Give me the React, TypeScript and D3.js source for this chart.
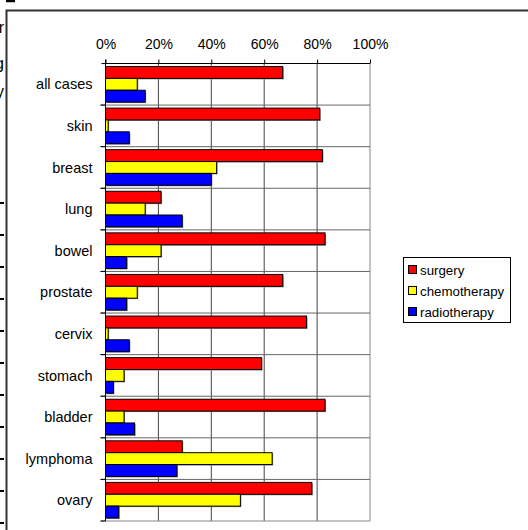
import { useEffect, useRef } from "react";
import * as d3 from "d3";

const categories = [
  "all cases", "skin", "breast", "lung", "bowel", "prostate",
  "cervix", "stomach", "bladder", "lymphoma", "ovary",
];
const surgery = [67, 81, 82, 21, 83, 67, 76, 59, 83, 29, 78];
const chemotherapy = [12, 1, 42, 15, 21, 12, 1, 7, 7, 63, 51];
const radiotherapy = [15, 9, 40, 29, 8, 8, 9, 3, 11, 27, 5];
const seriesNames = ["surgery", "chemotherapy", "radiotherapy"];
const seriesColors = ["#ff0000", "#ffff00", "#0000ff"];
const tickValues = [0, 20, 40, 60, 80, 100];

// fragments of the surrounding document that show at the left edge
const edgeLetters = ["r", "g", "y"];
const edgeLetterY = [33, 69, 97];

export default function App() {
  const svgRef = useRef<SVGSVGElement>(null);

  useEffect(() => {
    if (!svgRef.current) return;
    const width = 528;
    const height = 530;
    const svg = d3.select(svgRef.current);
    svg.selectAll("*").remove();
    svg.attr("viewBox", `0 0 ${width} ${height}`);

    const font = "'Liberation Sans', Arial, sans-serif";
    const margin = { top: 63.5, left: 105.5, right: 158, bottom: 9 };

    // frame of the embedded object
    svg.append("path")
      .attr("d", `M6.5,${height} V10.5 H${width}`)
      .attr("fill", "none")
      .attr("stroke", "#333")
      .attr("stroke-width", 2);

    // document remnants at the edge
    svg.append("line")
      .attr("x1", 6).attr("x2", 15).attr("y1", 1).attr("y2", 1)
      .attr("stroke", "#000").attr("stroke-width", 2.5);
    edgeLetters.forEach((t, i) => {
      svg.append("text")
        .attr("x", 4).attr("y", edgeLetterY[i])
        .attr("text-anchor", "end")
        .style("font-family", font).style("font-size", "16px")
        .text(t);
    });
    d3.range(11).forEach(i => {
      svg.append("line")
        .attr("x1", 0).attr("x2", 4)
        .attr("y1", 203 + i * 32).attr("y2", 203 + i * 32)
        .attr("stroke", "#000").attr("stroke-width", 2);
    });

    const x = d3.scaleLinear()
      .domain([0, 100])
      .range([margin.left, width - margin.right]);
    const y = d3.scaleBand<string>()
      .domain(categories)
      .range([margin.top, height - margin.bottom]);
    const inner = d3.scaleBand<string>()
      .domain(seriesNames)
      .range([3, y.bandwidth() - 3]);

    const g = svg.append("g");

    // vertical gridlines
    tickValues.slice(1).forEach(t => {
      g.append("line")
        .attr("x1", x(t)).attr("x2", x(t))
        .attr("y1", y.range()[0]).attr("y2", y.range()[1])
        .attr("stroke", t === 100 ? "#888" : "#444")
        .attr("stroke-width", 1);
    });
    // horizontal separators
    categories.forEach((c, i) => {
      if (i === 0) return;
      g.append("line")
        .attr("x1", x(0) - 5).attr("x2", x(100))
        .attr("y1", y(c)!).attr("y2", y(c)!)
        .attr("stroke", "#666").attr("stroke-width", 1);
    });
    g.append("line")
      .attr("x1", x(0) - 5).attr("x2", x(100))
      .attr("y1", y.range()[1]).attr("y2", y.range()[1])
      .attr("stroke", "#888").attr("stroke-width", 1);

    // bars
    const values = [surgery, chemotherapy, radiotherapy];
    categories.forEach((c, i) => {
      seriesNames.forEach((s, j) => {
        const v = values[j][i];
        g.append("rect")
          .attr("x", x(0) + 1)
          .attr("y", y(c)! + inner(s)! + 1)
          .attr("width", Math.max(0, x(v) - x(0)))
          .attr("height", inner.bandwidth())
          .attr("fill", "#888");
        g.append("rect")
          .attr("x", x(0))
          .attr("y", y(c)! + inner(s)!)
          .attr("width", Math.max(0, x(v) - x(0)))
          .attr("height", inner.bandwidth())
          .attr("fill", seriesColors[j])
          .attr("stroke", "#000")
          .attr("stroke-width", 1);
      });
    });

    // top axis
    const xAxis = g.append("g").attr("transform", `translate(0,${margin.top})`)
      .call(d3.axisTop(x).tickValues(tickValues).tickSize(4).tickPadding(11)
        .tickFormat(d => `${d}%`));
    xAxis.select(".domain").attr("d", `M${x(0) - 4},0H${x(100)}`).attr("stroke", "#000");
    xAxis.selectAll("line").attr("stroke", "#000");
    xAxis.selectAll("text")
      .style("font-family", font).style("font-size", "14px").attr("fill", "#000");

    // left axis
    g.append("line")
      .attr("x1", x(0)).attr("x2", x(0))
      .attr("y1", y.range()[0] - 4).attr("y2", y.range()[1])
      .attr("stroke", "#000");
    categories.forEach(c => {
      g.append("line")
        .attr("x1", x(0) - 5).attr("x2", x(0))
        .attr("y1", y(c)! + y.bandwidth()).attr("y2", y(c)! + y.bandwidth())
        .attr("stroke", "#000");
      g.append("text")
        .attr("x", x(0) - 13)
        .attr("y", y(c)! + y.bandwidth() / 2)
        .attr("dy", "0.35em")
        .attr("text-anchor", "end")
        .style("font-family", font).style("font-size", "14.5px")
        .text(c);
    });

    // legend
    const lg = svg.append("g").attr("transform", "translate(403,257)");
    lg.append("rect")
      .attr("x", 0.5).attr("y", 0.5)
      .attr("width", 107).attr("height", 65)
      .attr("fill", "#fff").attr("stroke", "#000");
    seriesNames.forEach((s, j) => {
      const cy = 13 + j * 21;
      lg.append("rect")
        .attr("x", 5.5).attr("y", cy - 4.5)
        .attr("width", 8).attr("height", 8)
        .attr("fill", seriesColors[j]).attr("stroke", "#000");
      lg.append("text")
        .attr("x", 17).attr("y", cy)
        .attr("dy", "0.35em")
        .style("font-family", font).style("font-size", "13.3px")
        .text(s);
    });
  }, []);

  return (
    <div style={{ position: "absolute", left: 0, top: 0, width: 528, height: 530, background: "#fff" }}>
      <svg ref={svgRef} width={528} height={530} style={{ display: "block" }} />
    </div>
  );
}
